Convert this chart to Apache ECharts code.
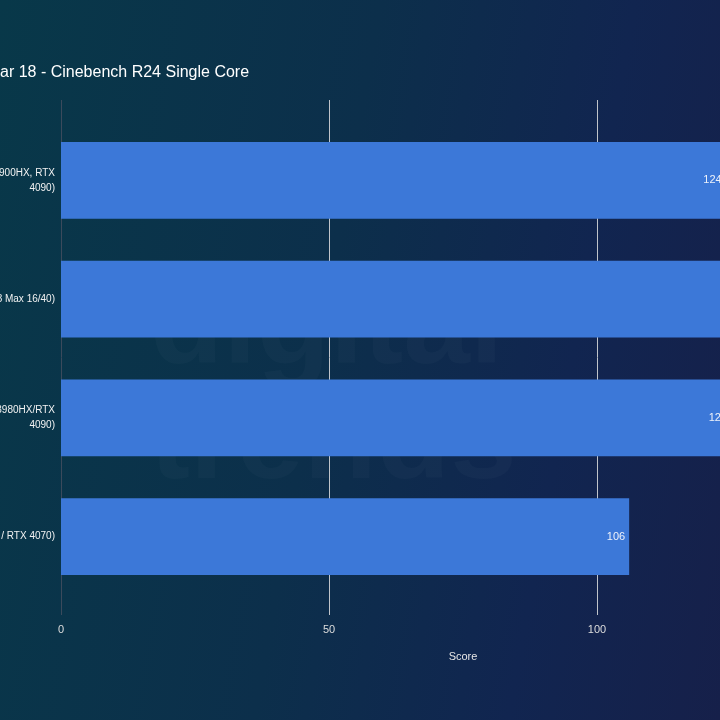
<!DOCTYPE html>
<html>
<head>
<meta charset="utf-8">
<script src="https://cdn.jsdelivr.net/npm/echarts@6/dist/echarts.min.js"></script>
<style>
  html, body {
    margin: 0;
    padding: 0;
    width: 720px;
    height: 720px;
    overflow: hidden;
    background: linear-gradient(100deg, #083849 0%, #0c2f4b 45%, #112550 75%, #16204a 100%);
  }
  /* the chart is wider than the window, so its left and right edges are cut off */
  #chart {
    position: absolute;
    left: -200px;
    top: 0;
    width: 1115px;
    height: 720px;
  }
</style>
</head>
<body>
<div id="chart"></div>
<script>
// data
const titleText = 'Asus ROG Strix Scar 18 - Cinebench R24 Single Core';
const categories = [
  'Asus ROG Strix Scar 18 (Intel Core i9-14900HX, RTX\n4090)',
  'Apple MacBook Pro 16 (Apple M3 Max 16/40)',
  'Razer Blade 18 (Intel Core i9-13980HX/RTX\n4090)',
  'Asus ROG Zephyrus G16 (Intel Core Ultra 9 185H / RTX 4070)'
];
const scores = [124, 141, 125, 106];
const axisName = 'Score';

const OFFSET = 200; // container shift to the left
const gridLeft = OFFSET + 61;
const gridWidth = 804;

const chart = echarts.init(document.getElementById('chart'));

chart.setOption({
  backgroundColor: 'transparent',
  animation: false,
  title: {
    text: titleText,
    left: OFFSET - 141,
    top: 60,
    textStyle: {
      color: '#ffffff',
      fontSize: 16,
      fontWeight: 'normal',
      fontFamily: 'Liberation Sans, Arial, sans-serif'
    }
  },
  graphic: [{
    type: 'text',
    left: OFFSET + 150,
    top: 270,
    silent: true,
    z: 0,
    style: {
      text: 'digital\ntrends',
      font: 'bold 120px Liberation Sans, Arial, sans-serif',
      lineHeight: 115,
      fill: 'rgba(255,255,255,0.025)'
    }
  }],
  grid: [
    // grid for the value axis, gridlines and labels
    { left: gridLeft, width: gridWidth, top: 100, height: 515, outerBoundsMode: 'none', containLabel: false },
    // grid for the bars
    { left: gridLeft, width: gridWidth, top: 121, height: 475, outerBoundsMode: 'none', containLabel: false }
  ],
  xAxis: [{
    gridIndex: 0,
    type: 'value',
    min: 0,
    max: 150,
    interval: 50,
    name: axisName,
    nameLocation: 'middle',
    nameGap: 36,
    nameTextStyle: { color: '#e6e6e6', fontSize: 11, fontFamily: 'Liberation Sans, Arial, sans-serif' },
    axisLine: { show: false },
    axisTick: { show: false },
    axisLabel: { color: '#dddddd', fontSize: 11, margin: 9, fontFamily: 'Liberation Sans, Arial, sans-serif' },
    splitLine: {
      show: true,
      lineStyle: { color: ['#3b4a5c', '#c0c4ca', '#c0c4ca', '#c0c4ca'], width: 1 }
    }
  }, {
    gridIndex: 1,
    type: 'value',
    min: 0,
    max: 150,
    show: false
  }],
  yAxis: [{
    gridIndex: 0,
    type: 'category',
    data: categories,
    show: false
  }, {
    gridIndex: 1,
    type: 'category',
    inverse: true,
    data: categories,
    axisLine: { show: false },
    axisTick: { show: false },
    axisLabel: {
      color: '#f2f2f2',
      fontSize: 10,
      lineHeight: 15,
      margin: 6,
      align: 'right',
      fontFamily: 'Liberation Sans, Arial, sans-serif'
    }
  }],
  series: [{
    type: 'bar',
    xAxisIndex: 1,
    yAxisIndex: 1,
    data: scores,
    barCategoryGap: '35.5%',
    itemStyle: { color: '#3c78d8' },
    label: {
      show: true,
      position: 'insideRight',
      distance: 4,
      color: '#eef2fa',
      fontSize: 11,
      fontFamily: 'Liberation Sans, Arial, sans-serif'
    }
  }]
});
</script>
</body>
</html>
